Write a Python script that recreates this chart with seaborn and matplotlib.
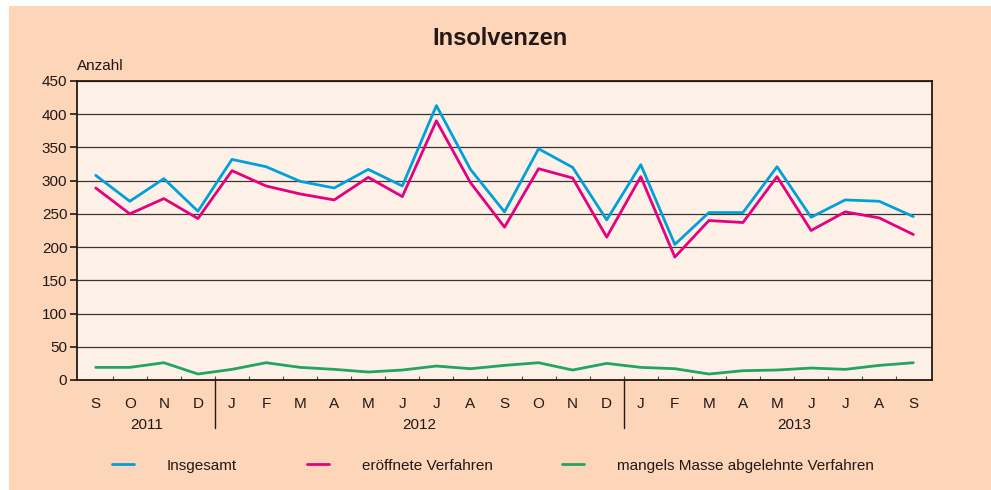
import numpy as np
import pandas as pd
import seaborn as sns
import matplotlib.pyplot as plt
from matplotlib.patches import Rectangle
from matplotlib.lines import Line2D

# monthly counts, Sep 2011 .. Sep 2013
months = ["S", "O", "N", "D",
          "J", "F", "M", "A", "M", "J", "J", "A", "S", "O", "N", "D",
          "J", "F", "M", "A", "M", "J", "J", "A", "S"]
years = ["2011", "2012", "2013"]
insgesamt = [308, 269, 303, 254, 332, 321, 299, 289, 317, 292, 413, 317, 253,
             348, 320, 241, 324, 204, 252, 252, 321, 245, 271, 269, 246]
eroeffnet = [289, 250, 273, 243, 315, 292, 280, 271, 305, 276, 390, 297, 230,
             318, 304, 215, 306, 185, 240, 237, 306, 225, 253, 244, 219]
mangels = [19, 19, 26, 9, 16, 26, 19, 16, 12, 15, 21, 17, 22,
           26, 15, 25, 19, 17, 9, 14, 15, 18, 16, 22, 26]
series_names = ["Insgesamt", "eröffnete Verfahren",
                "mangels Masse abgelehnte Verfahren"]
colors = ["#00a0d8", "#e5007d", "#22a462"]

n = len(months)
df = pd.DataFrame({
    "pos": list(range(n)) * 3,
    "wert": insgesamt + eroeffnet + mangels,
    "serie": [s for s in series_names for _ in range(n)],
})

sns.set_style("ticks")
plt.rcParams["font.family"] = ["Liberation Sans", "DejaVu Sans"]

fig = plt.figure(figsize=(9.91, 4.9), dpi=100)
fig.patch.set_facecolor("white")
fig.patches.append(Rectangle((9 / 991, 0), 1, 1 - 6 / 490, transform=fig.transFigure,
                             facecolor="#fdd6ba", edgecolor="none", zorder=-10))
ax = fig.add_axes([0.0777, 0.2245, 0.8628, 0.6102])
ax.set_facecolor("#fdf1e7")

sns.lineplot(data=df, x="pos", y="wert", hue="serie", palette=colors,
             linewidth=2, ax=ax, legend=False)

ax.set_xlim(-0.55, n - 0.45)
ax.set_ylim(0, 450)
ax.set_yticks(np.arange(0, 451, 50))
ax.yaxis.grid(True, color="#3d3330", linewidth=0.9)
ax.set_axisbelow(True)
ax.tick_params(axis="y", labelsize=11, length=5, width=1.2, colors="#231815",
               pad=2)
ax.set_xticks(range(n))
ax.set_xticklabels(months, fontsize=11, color="#231815")
ax.tick_params(axis="x", length=0, pad=12)
ax.set_xticks(np.arange(0.5, n - 1, 1), minor=True)
ax.tick_params(axis="x", which="minor", direction="in", length=3, width=0.8,
               color="#5a4a40")
for s in ax.spines.values():
    s.set_color("#231815")
    s.set_linewidth(1.3)
ax.set_xlabel("")
ax.set_ylabel("")

# year separators and labels
trans = ax.get_xaxis_transform()
for xsep in [3.5, 15.5]:
    ax.plot([xsep, xsep], [0, -0.16], transform=trans, color="#231815",
            linewidth=1, clip_on=False)
for label, xc in zip(years, [1.5, 9.5, 20.5]):
    ax.text(xc, -0.15, label, transform=trans, ha="center", va="center",
            fontsize=11, color="#231815")

ax.text(0.0, 1.05, "Anzahl", transform=ax.transAxes, ha="left", va="center",
        fontsize=11, color="#231815")
fig.text(0.505, 0.922, "Insolvenzen", ha="center", va="center", fontsize=17,
         fontweight="bold", color="#231815")

handles = [Line2D([], [], color=c, linewidth=2) for c in colors]
fig.legend(handles, series_names, loc="center left", bbox_to_anchor=(0.113, 0.05),
           ncol=3, frameon=False, fontsize=11, handlelength=1.45,
           handletextpad=2.15, columnspacing=4.55, labelcolor="#231815",
           borderpad=0, borderaxespad=0)

fig.savefig("out.png", dpi=100)
